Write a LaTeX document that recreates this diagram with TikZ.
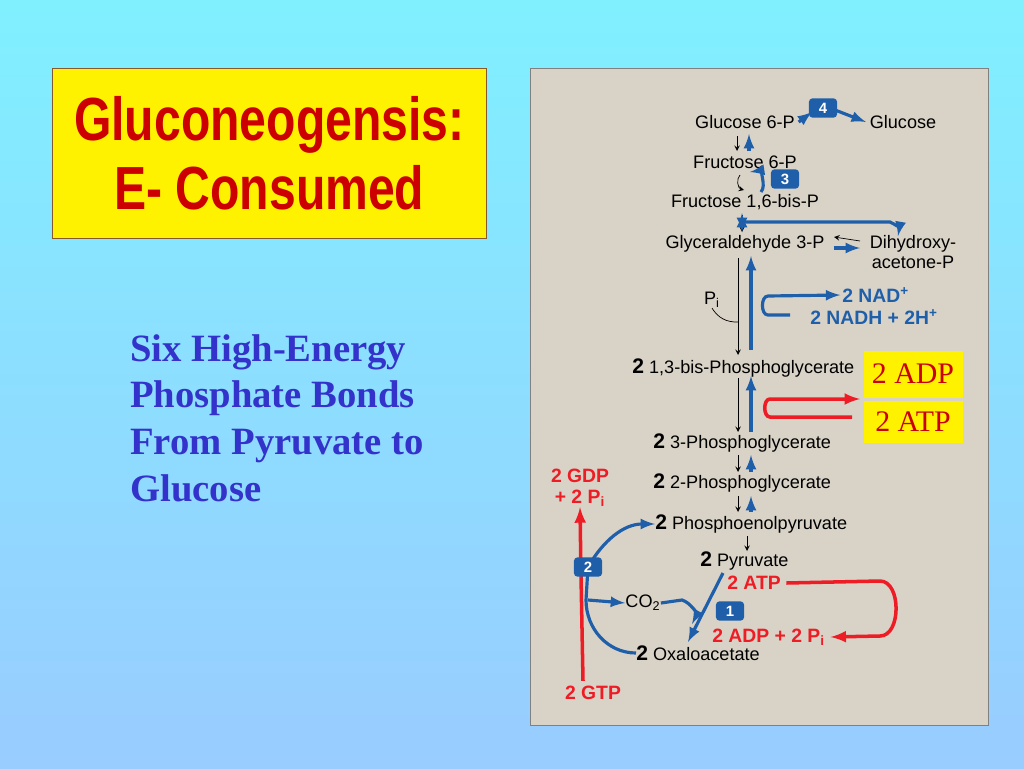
\documentclass[tikz,border=0pt]{standalone}
\usepackage{fontspec}
\setmainfont{Liberation Serif}
\setsansfont{Liberation Sans}
\definecolor{panel}{HTML}{D9D3C7}
\definecolor{pblue}{HTML}{1F5FAA}
\definecolor{pred}{HTML}{EE1C25}
\definecolor{ttl}{HTML}{CC0000}
\definecolor{lblue}{HTML}{3333CC}
\definecolor{bgtop}{HTML}{80F0FF}
\definecolor{bgbot}{HTML}{99CCFF}
\begin{document}
\begin{tikzpicture}[x=0.02cm, y=-0.02cm]
      \tikzstyle{MET} = [font=\sffamily\fontsize{10.3}{11.5}\selectfont, inner sep=0pt]
      \tikzstyle{RED} = [font=\sffamily\bfseries\fontsize{11}{12}\selectfont, text=pred, inner sep=0pt]
      \tikzstyle{NUM} = [fill=pblue, text=white, rounded corners=2pt, font=\sffamily\bfseries\fontsize{8.5}{8.5}\selectfont, minimum width=16pt, minimum height=11pt, inner sep=0pt]
      \tikzstyle{YEL} = [fill=yellow, text=ttl, font=\fontsize{17}{17}\selectfont, minimum width=99*0.02cm, inner sep=0pt]
      \tikzstyle{BK} = [->, >=stealth, thin]
      \tikzstyle{BL} = [->, >=latex, pblue, line width=1.8pt]
      \tikzstyle{RD} = [->, >=latex, pred, line width=2pt]

      \shade[top color=bgtop, bottom color=bgbot] (0,0) rectangle (1024,768);
      \useasboundingbox (0,0) rectangle (1024,768);

      %%%%% TITLE AND TEXT

      \node[draw=brown!70!black, fill=yellow, minimum width=434*0.02cm, minimum height=170*0.02cm, anchor=north west](t0) at (52,68) {};
      \node[text=ttl, font=\sffamily\bfseries\fontsize{33}{37}\selectfont, align=center](t1) at (t0) {\scalebox{0.83}[1.05]{Gluconeogensis:}\\[2pt]\scalebox{0.83}[1.05]{E- Consumed}};
      \node[text=lblue, font=\bfseries\fontsize{22}{26.7}\selectfont, align=left, anchor=north west](t2) at (124,328) {Six High-Energy\\Phosphate Bonds\\From Pyruvate to\\Glucose};

      %%%%% PANEL

      \draw[gray, fill=panel] (530,68) rectangle (988,725);

      %%%%% VERTEX

      \node[MET](v1) at (745,122) {Glucose 6-P};
      \node[MET](v2) at (903,122) {Glucose};
      \node[MET](v3) at (745,162) {Fructose 6-P};
      \node[MET](v4) at (745,202) {Fructose 1,6-bis-P};
      \node[MET](v5) at (745,244) {Glyceraldehyde 3-P};
      \node[MET, align=center](v6) at (913,252) {Dihydroxy-\\acetone-P};
      \node[MET](v7) at (712,300) {P\textsubscript{i}};
      \node[MET, anchor=west](v8) at (632,368) {\textbf{\large 2} 1,3-bis-Phosphoglycerate};
      \node[MET, anchor=west](v9) at (653,443) {\textbf{\large 2} 3-Phosphoglycerate};
      \node[MET, anchor=west](v10) at (653,483) {\textbf{\large 2} 2-Phosphoglycerate};
      \node[MET, anchor=west](v11) at (655,524) {\textbf{\large 2} Phosphoenolpyruvate};
      \node[MET, anchor=west](v12) at (700,561) {\textbf{\large 2} Pyruvate};
      \node[MET, anchor=west](v13) at (636,653) {\textbf{\large 2} Oxaloacetate};
      \node[MET](v14) at (643,603) {CO\textsubscript{2}};

      \node[RED, text=pblue, anchor=west](n1) at (842,295) {2 NAD\textsuperscript{+}};
      \node[RED, text=pblue, anchor=west](n2) at (810,317) {2 NADH + 2H\textsuperscript{+}};
      \node[RED, anchor=west](r1) at (727,583) {2 ATP};
      \node[RED, anchor=west](r2) at (712,637) {2 ADP + 2 P\textsubscript{i}};
      \node[RED, align=center](r3) at (580,488) {2 GDP\\+ 2 P\textsubscript{i}};
      \node[RED](r4) at (593,693) {2 GTP};

      %%%%% EDGES

      \draw[BL] ([xshift=2pt]v1.east) -- (812,112);
      \draw[BL] (835,110) -- ([xshift=-2pt]v2.west);
      \draw[BK] (737,136) -- (737,151);
      \draw[BL] (749,151) -- (749,134);
      \draw[BK] (740,175) to[bend right=60] (744,190);
      \draw[BL] (761,192) to[bend right=70] (750,172);
      \draw[BK] (742,215) -- (742,232);
      \draw[BL, <->] (742,232) -- (742,213);
      \draw[BL] (742,222) -- (890,222) to[bend left=40] (898,236);
      \draw[BK] (860,241) -- (834,237);
      \draw[BL] (834,248) -- (860,248);

      \draw[BK] (738,258) -- (738,355);
      \draw[BL] (751,350) -- (751,256);
      \draw[BL] (790,315) -- (768,315) to[bend left=90] (768,296) -- ([xshift=-1pt]n1.west);
      \draw[thin] (v7.south) to[bend right=30] (738,322);

      \draw[BK] (738,378) -- (738,432);
      \draw[BL] (751,432) -- (751,376);
      \draw[RD] (852,417) -- (770,417) to[bend left=90] (770,399) -- (860,399);

      \draw[BK] (738,455) -- (738,472);
      \draw[BL] (751,472) -- (751,455);
      \draw[BK] (738,496) -- (738,512);
      \draw[BL] (751,512) -- (751,496);
      \draw[BK] (747,536) -- (747,551);

      \draw[BL] (723,573) -- (688,642);
      \draw[BL] (v14.east) -- (682,600) to[bend left=50] (692,624);
      \draw[RD] ([xshift=3pt]r1.east) -- (880,581) to[bend left=90] (880,636) -- ([xshift=3pt]r2.east);
      \draw[RD] (r4.north) ++(-10,-5) -- (581,576) -- (r3.south);
      \draw[BL] (v13.west) to[out=180, in=-90] (586,600) -- (588,567) to[out=60, in=180] (v11.west);
      \draw[BL] (588,600) -- (v14.west);

      \node[NUM](b4) at (823,108) {4};
      \node[NUM](b3) at (785,179) {3};
      \node[NUM](b2) at (588,567) {2};
      \node[NUM](b1) at (730,611) {1};

      \node[YEL, minimum height=47*0.02cm](y1) at (913,374) {2 ADP};
      \node[YEL, minimum height=42*0.02cm](y2) at (913,422) {2 ATP};
    \end{tikzpicture}
\end{document}
